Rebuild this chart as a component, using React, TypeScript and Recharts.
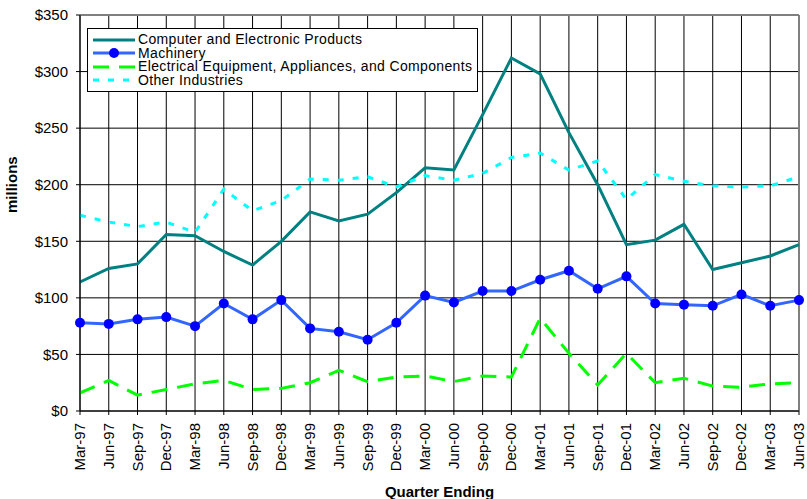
import React from 'react';
import { LineChart, Line, XAxis, YAxis, CartesianGrid, Legend, ReferenceLine } from 'recharts';

// Quarterly values, millions of dollars
const quarters = ['Mar-97', 'Jun-97', 'Sep-97', 'Dec-97', 'Mar-98', 'Jun-98', 'Sep-98', 'Dec-98', 'Mar-99', 'Jun-99', 'Sep-99', 'Dec-99', 'Mar-00', 'Jun-00', 'Sep-00', 'Dec-00', 'Mar-01', 'Jun-01', 'Sep-01', 'Dec-01', 'Mar-02', 'Jun-02', 'Sep-02', 'Dec-02', 'Mar-03', 'Jun-03'];
const computerElectronic = [114, 126, 130, 156, 155, 141, 129, 150, 176, 168, 174, 193, 215, 213, 262, 312, 298, 246, 200, 147, 151, 165, 125, 131, 137, 147];
const machinery = [78, 77, 81, 83, 75, 95, 81, 98, 73, 70, 63, 78, 102, 96, 106, 106, 116, 124, 108, 119, 95, 94, 93, 103, 93, 98];
const electrical = [16, 27, 14, 19, 24, 27, 19, 20, 25, 36, 26, 30, 31, 26, 31, 30, 82, 51, 23, 51, 25, 29, 22, 21, 24, 25];
const otherIndustries = [173, 167, 163, 167, 158, 196, 177, 186, 205, 204, 207, 198, 208, 204, 210, 224, 228, 213, 221, 187, 209, 203, 199, 198, 199, 207];
const yTicks = [0, 50, 100, 150, 200, 250, 300, 350];

const series = [
  { key: 'computer', name: 'Computer and Electronic Products', color: '#008080', dash: undefined, dot: false },
  { key: 'machinery', name: 'Machinery', color: '#3366FF', dash: undefined, dot: true },
  { key: 'electrical', name: 'Electrical Equipment, Appliances, and Components', color: '#00FF00', dash: '16 10', dot: false },
  { key: 'other', name: 'Other Industries', color: '#00FFFF', dash: '6 9', dot: false },
];

const data = quarters.map((q, i) => ({
  quarter: q,
  computer: computerElectronic[i],
  machinery: machinery[i],
  electrical: electrical[i],
  other: otherIndustries[i],
}));

const FONT = 'Arial, "Liberation Sans", sans-serif';

const QuarterTick = ({ x, y, payload }: any) => (
  <g transform={`translate(${x + 5},${y + 6}) rotate(-90)`}>
    <text x={0} y={0} textAnchor="end" fontSize={15} fill="#000" fontFamily={FONT}>
      {payload.value}
    </text>
  </g>
);

const renderLegend = () => (
  <div style={{ border: '1px solid #000', background: '#fff', width: 391, height: 64, boxSizing: 'border-box', paddingTop: 4, paddingLeft: 4 }}>
    {series.map(s => (
      <div key={s.key} style={{ display: 'flex', alignItems: 'center', height: 13.5, lineHeight: '13.5px', fontSize: 14, letterSpacing: 0.35, fontFamily: FONT, color: '#000', whiteSpace: 'nowrap' }}>
        <svg width={44} height={12} style={{ marginRight: 2 }}>
          <line x1={1} y1={6} x2={43} y2={6} stroke={s.color} strokeWidth={3} strokeDasharray={s.dash} />
          {s.dot && <circle cx={22} cy={6} r={5} fill="#0000FF" />}
        </svg>
        <span>{s.name}</span>
      </div>
    ))}
  </div>
);

export default function App() {
  return (
    <div style={{ position: 'absolute', left: 0, top: 0, width: 807, height: 499, background: '#fff' }}>
      <LineChart width={807} height={499} data={data} margin={{ top: 15, right: 8, bottom: 0, left: 0 }}>
        <CartesianGrid stroke="#000" strokeWidth={1} />
        <XAxis
          dataKey="quarter"
          interval={0}
          tick={<QuarterTick />}
          tickSize={4}
          height={88}
          stroke="#000"
          label={{ value: 'Quarter Ending', position: 'insideBottom', offset: 2, fontSize: 15, fontWeight: 'bold', fill: '#000', fontFamily: FONT }}
        />
        <YAxis
          domain={[0, 350]}
          ticks={yTicks}
          width={80}
          tickSize={4}
          tickMargin={8}
          stroke="#000"
          tick={{ fontSize: 15, fill: '#000', fontFamily: FONT }}
          tickFormatter={(v: number) => `$${v}`}
          label={{ value: 'millions', angle: -90, position: 'insideLeft', offset: 12, fontSize: 15, fontWeight: 'bold', fill: '#000', fontFamily: FONT }}
        />
        <ReferenceLine y={350} stroke="#808080" strokeWidth={2} />
        <ReferenceLine x="Jun-03" stroke="#808080" strokeWidth={2} />
        <Legend
          layout="vertical"
          align="center"
          verticalAlign="middle"
          content={renderLegend}
          wrapperStyle={{ position: 'absolute', left: 87, top: 28, width: 391, height: 64 }}
        />
        {series.map(s => (
          <Line
            key={s.key}
            dataKey={s.key}
            name={s.name}
            stroke={s.color}
            strokeWidth={3}
            strokeDasharray={s.dash}
            dot={s.dot ? { r: 5, fill: '#0000FF', stroke: 'none' } : false}
            activeDot={false}
            isAnimationActive={false}
          />
        ))}
      </LineChart>
    </div>
  );
}
